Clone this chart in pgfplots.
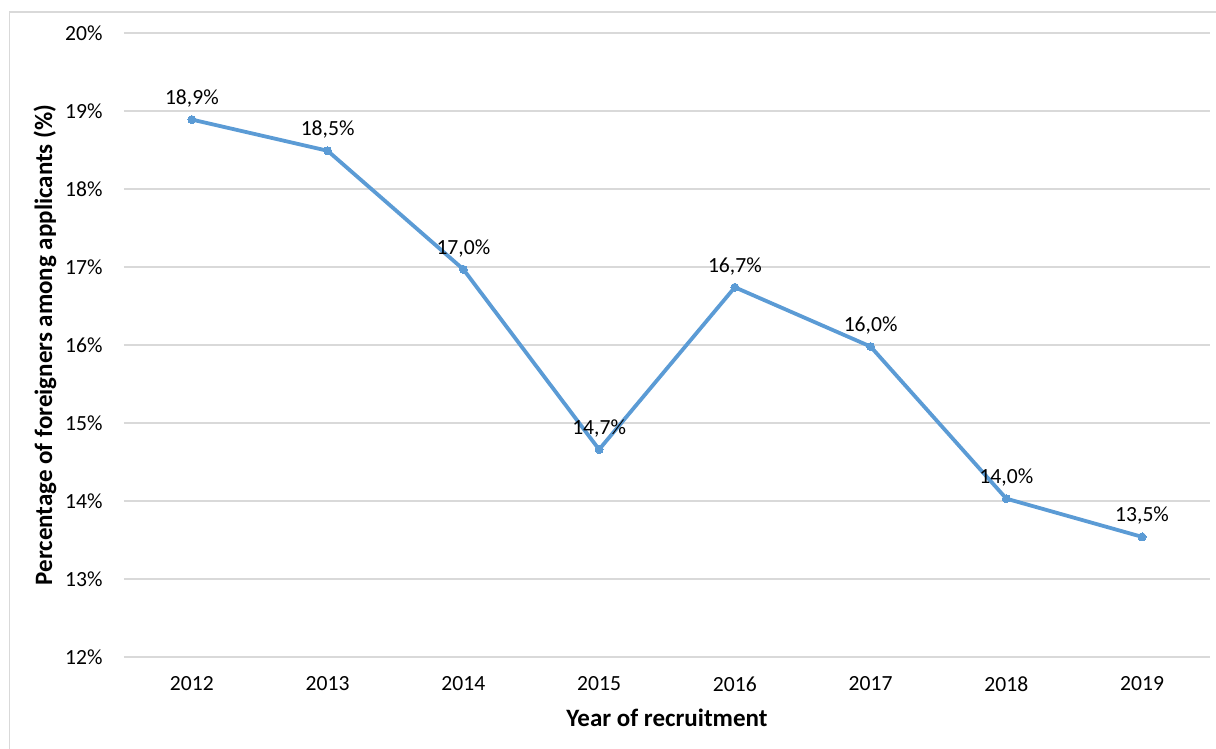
\documentclass[border=0pt]{standalone}
\usepackage{pgfplots}
\pgfplotsset{compat=1.18}
\usepackage{fontspec}
\setmainfont{Carlito}
\definecolor{lineblue}{HTML}{5B9BD5}
\definecolor{gridgray}{HTML}{D9D9D9}
\newcommand{\chartfont}{\fontsize{21.6}{25}\selectfont}
\newcommand{\labelfont}{\fontsize{25}{29}\selectfont\bfseries}
\begin{document}
\begin{tikzpicture}
\useasboundingbox (0pt,0pt) rectangle (1216pt,749pt);
% outer chart frame
\draw[gridgray, line width=1.3pt] (9.5pt,-5pt) -- (9.5pt,737pt) -- (1225pt,737pt);
\begin{axis}[
    at={(124pt,92pt)}, anchor=south west,
    scale only axis,
    width=1086pt, height=624pt,
    xmin=-0.5, xmax=7.5,
    ymin=12, ymax=20,
    xtick={0,...,7},
    xticklabels={2012,2013,2014,2015,2016,2017,2018,2019},
    ytick={12,...,20},
    yticklabels={12\%,13\%,14\%,15\%,16\%,17\%,18\%,19\%,20\%},
    ymajorgrids,
    grid style={gridgray, line width=1.3pt},
    axis line style={draw=none},
    major tick length=0pt,
    tick label style={font=\chartfont, text=black},
    yticklabel style={xshift=-18pt},
    xticklabel style={yshift=-16pt},
    xlabel={Year of recruitment},
    ylabel={Percentage of foreigners among applicants (\%)},
    label style={font=\labelfont},
    xlabel style={at={(axis description cs:0.5,-0.0978)}, anchor=center},
    ylabel style={at={(axis description cs:-0.0727,0.5)}, anchor=center, rotate=0},
    nodes near coords={\pgfmathprintnumber[fixed, fixed zerofill, precision=1, use comma, assume math mode=true]{\pgfplotspointmeta}\%},
    every node near coord/.append style={font=\chartfont, text=black, anchor=south, yshift=9pt},
    clip=false,
]
\addplot[color=lineblue, line width=3.8pt, mark=*, mark size=4pt, mark options={fill=lineblue, draw=lineblue, line width=0pt}]
    coordinates {(0,18.89) (1,18.49) (2,16.97) (3,14.66) (4,16.74) (5,15.98) (6,14.03) (7,13.54)};
\end{axis}
\end{tikzpicture}
\end{document}
